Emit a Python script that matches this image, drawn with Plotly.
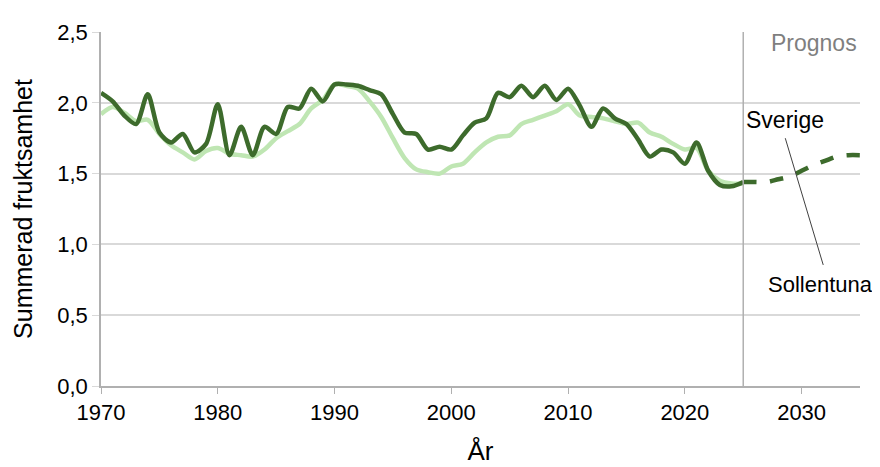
import plotly.graph_objects as go

years_hist = list(range(1970, 2026))
sollentuna = [2.07, 2.01, 1.91, 1.85, 2.06, 1.79, 1.72, 1.78, 1.65, 1.71,
              1.99, 1.63, 1.83, 1.63, 1.83, 1.78, 1.97, 1.96, 2.10, 2.01,
              2.13, 2.13, 2.12, 2.09, 2.06, 1.92, 1.79, 1.78, 1.67, 1.69,
              1.67, 1.77, 1.86, 1.89, 2.07, 2.04, 2.12, 2.04, 2.12, 2.02,
              2.10, 1.98, 1.83, 1.96, 1.89, 1.85, 1.74, 1.62, 1.67, 1.65,
              1.57, 1.72, 1.52, 1.42, 1.41, 1.44]
sverige = [1.92, 1.97, 1.93, 1.87, 1.88, 1.78, 1.70, 1.65, 1.60, 1.66,
           1.68, 1.64, 1.63, 1.62, 1.67, 1.75, 1.80, 1.85, 1.96, 2.02,
           2.13, 2.12, 2.10, 2.01, 1.90, 1.75, 1.61, 1.53, 1.51, 1.50,
           1.55, 1.57, 1.65, 1.72, 1.76, 1.77, 1.85, 1.88, 1.91, 1.94,
           1.99, 1.91, 1.90, 1.89, 1.87, 1.85, 1.86, 1.79, 1.76, 1.71,
           1.67, 1.68, 1.52, 1.45, 1.43, 1.43]
years_prog = list(range(2025, 2036))
sollentuna_prog = [1.44, 1.44, 1.44, 1.46, 1.48, 1.52, 1.56, 1.59, 1.62, 1.63, 1.63]

x_ticks = [1970, 1980, 1990, 2000, 2010, 2020, 2030]
y_ticks = [0.0, 0.5, 1.0, 1.5, 2.0, 2.5]
y_ticklabels = ["0,0", "0,5", "1,0", "1,5", "2,0", "2,5"]

DARK = "#3d6b2c"
LIGHT = "#bfe6b3"

fig = go.Figure()
fig.add_trace(go.Scatter(x=years_hist, y=sverige, mode="lines", name="Sverige",
                         line=dict(color=LIGHT, width=4.5, shape="spline", smoothing=0.8)))
fig.add_trace(go.Scatter(x=years_hist, y=sollentuna, mode="lines", name="Sollentuna",
                         line=dict(color=DARK, width=4.5, shape="spline", smoothing=0.8)))
fig.add_trace(go.Scatter(x=years_prog, y=sollentuna_prog, mode="lines", name="Prognos",
                         line=dict(color=DARK, width=4.5, dash="dash", shape="spline", smoothing=0.8)))

fig.add_shape(type="line", xref="x", yref="paper", x0=2025, x1=2025, y0=0, y1=1,
              line=dict(color="#b0b0b0", width=1.5))

font = "Liberation Sans, Arial, sans-serif"
fig.add_annotation(x=2034.9, y=2.42, xref="x", yref="y", text="Prognos", showarrow=False,
                   xanchor="right", yanchor="middle", font=dict(size=23, color="#7f7f7f", family=font))
fig.add_annotation(x=2028.6, y=1.88, xref="x", yref="y", text="Sverige", showarrow=False,
                   font=dict(size=23, color="#000000", family=font))
fig.add_annotation(x=2031.6, y=0.72, xref="x", yref="y", text="Sollentuna", showarrow=False,
                   font=dict(size=22, color="#000000", family=font))
fig.add_shape(type="line", xref="x", yref="y", x0=2028.6, y0=1.75, x1=2031.85, y1=0.855,
              line=dict(color="#404040", width=1))

fig.update_layout(
    width=880, height=467,
    margin=dict(l=93, r=28, t=18, b=89),
    plot_bgcolor="white", paper_bgcolor="white",
    showlegend=False,
    font=dict(family=font, size=22, color="#000000"),
    xaxis=dict(range=[1970, 2035], tickvals=x_ticks, ticktext=[str(v) for v in x_ticks],
               showgrid=False, showline=True, linecolor="#b0b0b0", linewidth=1.5,
               ticks="outside", ticklen=6, tickcolor="#b0b0b0",
               title=dict(text="År", font=dict(size=26), standoff=18),
               tickfont=dict(size=22)),
    yaxis=dict(range=[0, 2.5], tickvals=y_ticks, ticktext=y_ticklabels,
               showgrid=True, gridcolor="#d9d9d9", gridwidth=1.5,
               showline=True, linecolor="#b0b0b0", linewidth=1.5,
               ticks="outside", ticklen=7, tickcolor="#d9d9d9",
               zeroline=False,
               title=dict(text="Summerad fruktsamhet", font=dict(size=25), standoff=18),
               tickfont=dict(size=22)),
)

fig.write_html("out.html")
